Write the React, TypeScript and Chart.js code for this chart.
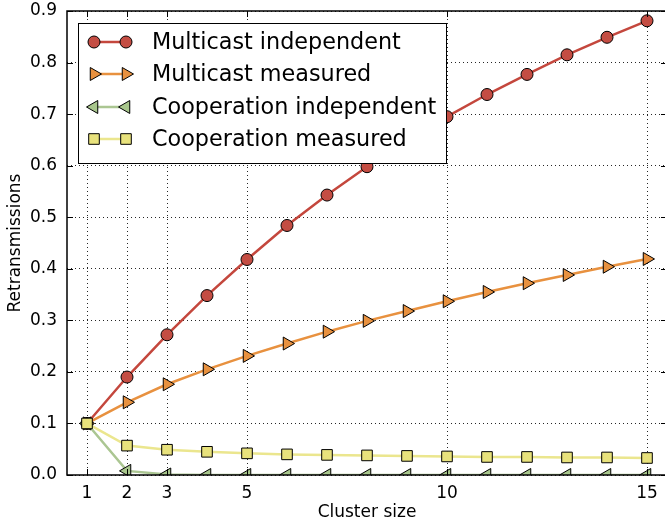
import React, { useEffect, useRef } from 'react';
import { Chart, registerables } from 'chart.js';
import { drawPoint } from 'chart.js/helpers';

Chart.register(...registerables);

const clusterSizes = [1, 2, 3, 4, 5, 6, 7, 8, 9, 10, 11, 12, 13, 14, 15];
const multicastIndependent = [0.1, 0.19, 0.272, 0.348, 0.418, 0.484, 0.543, 0.598, 0.649, 0.695, 0.738, 0.777, 0.815, 0.849, 0.881];
const multicastMeasured = [0.1, 0.141, 0.176, 0.205, 0.231, 0.255, 0.278, 0.299, 0.318, 0.337, 0.355, 0.372, 0.388, 0.404, 0.419];
const cooperationIndependent = [0.1, 0.008, 0.001, 0, 0, 0, 0, 0, 0, 0, 0, 0, 0, 0, 0];
const cooperationMeasured = [0.1, 0.057, 0.049, 0.045, 0.042, 0.04, 0.039, 0.038, 0.037, 0.036, 0.035, 0.035, 0.034, 0.034, 0.033];
const xTickValues = [1, 2, 3, 5, 10, 15];
const seriesLabels = ['Multicast independent', 'Multicast measured', 'Cooperation independent', 'Cooperation measured'];

const FONT = "'DejaVu Sans', sans-serif";

const frameAndLegend = {
  id: 'frameAndLegend',
  afterDraw(chart: any) {
    const { ctx, chartArea } = chart;
    const { left, top, right, bottom } = chartArea;
    const xs = chart.scales.x;
    const ys = chart.scales.y;
    ctx.save();
    ctx.strokeStyle = '#000';
    ctx.lineWidth = 1;
    ctx.setLineDash([]);
    // tick marks (inward)
    ctx.beginPath();
    xTickValues.forEach((v) => {
      const px = Math.round(xs.getPixelForValue(v)) + 0.5;
      ctx.moveTo(px, bottom);
      ctx.lineTo(px, bottom - 6);
      ctx.moveTo(px, top);
      ctx.lineTo(px, top + 6);
    });
    for (let i = 0; i <= 9; i++) {
      const py = Math.round(ys.getPixelForValue(i / 10)) + 0.5;
      ctx.moveTo(left, py);
      ctx.lineTo(left + 6, py);
      ctx.moveTo(right, py);
      ctx.lineTo(right - 6, py);
    }
    ctx.stroke();
    // frame
    ctx.lineWidth = 1.5;
    ctx.strokeRect(left, top, right - left, bottom - top);

    // legend
    const lx = 78.5, ly = 23.5, lw = 368, lh = 140;
    ctx.fillStyle = '#fff';
    ctx.fillRect(lx, ly, lw, lh);
    ctx.lineWidth = 1;
    ctx.strokeStyle = '#000';
    ctx.strokeRect(lx, ly, lw, lh);
    const rowY = [42, 74, 107, 139];
    seriesLabels.forEach((label, i) => {
      const ds = chart.data.datasets.find((d: any) => d.label === label);
      const y = rowY[i];
      ctx.strokeStyle = ds.borderColor;
      ctx.lineWidth = ds.borderWidth;
      ctx.beginPath();
      ctx.moveTo(94, y);
      ctx.lineTo(126, y);
      ctx.stroke();
      [94, 126].forEach((x) => {
        ctx.fillStyle = ds.pointBackgroundColor;
        ctx.strokeStyle = ds.pointBorderColor;
        ctx.lineWidth = ds.pointBorderWidth;
        drawPoint(ctx, { pointStyle: ds.pointStyle, rotation: ds.pointRotation, radius: ds.pointRadius, borderWidth: ds.pointBorderWidth }, x, y);
      });
      ctx.fillStyle = '#000';
      ctx.font = `22.3px ${FONT}`;
      ctx.textAlign = 'left';
      ctx.textBaseline = 'middle';
      ctx.fillText(label, 152, y + 1);
    });
    ctx.restore();
  },
};

function makeSeries(values: number[]) {
  return clusterSizes.map((x, i) => ({ x, y: values[i] }));
}

function zeroPadding(scale: any) {
  scale.paddingTop = 0;
  scale.paddingBottom = 0;
  scale.paddingLeft = 0;
  scale.paddingRight = 0;
}

export default function App() {
  const canvasRef = useRef<HTMLCanvasElement | null>(null);

  useEffect(() => {
    document.body.style.margin = '0';
    const canvas = canvasRef.current!;
    const chart = new Chart(canvas, {
      type: 'line',
      data: {
        datasets: [
          {
            label: seriesLabels[0],
            data: makeSeries(multicastIndependent),
            borderColor: '#c4473d',
            borderWidth: 2.5,
            pointStyle: 'circle',
            pointRadius: 6,
            pointRotation: 0,
            pointBackgroundColor: '#c44d43',
            pointBorderColor: '#000',
            pointBorderWidth: 1,
            clip: 0,
          },
          {
            label: seriesLabels[1],
            data: makeSeries(multicastMeasured),
            borderColor: '#e8913f',
            borderWidth: 2.5,
            pointStyle: 'triangle',
            pointRadius: 7.5,
            pointRotation: 90,
            pointBackgroundColor: '#e8913f',
            pointBorderColor: '#000',
            pointBorderWidth: 1,
            clip: 0,
          },
          {
            label: seriesLabels[2],
            data: makeSeries(cooperationIndependent),
            borderColor: '#abc692',
            borderWidth: 2.5,
            pointStyle: 'triangle',
            pointRadius: 7.5,
            pointRotation: -90,
            pointBackgroundColor: '#a8c68c',
            pointBorderColor: '#000',
            pointBorderWidth: 1,
            clip: 0,
          },
          {
            label: seriesLabels[3],
            data: makeSeries(cooperationMeasured),
            borderColor: '#ebe68e',
            borderWidth: 2.5,
            pointStyle: 'rect',
            pointRadius: 7.5,
            pointRotation: 0,
            pointBackgroundColor: '#e8e27c',
            pointBorderColor: '#000',
            pointBorderWidth: 1,
            clip: 0,
          },
        ].reverse() as any,
      },
      options: {
        animation: false,
        responsive: false,
        events: [],
        layout: { padding: { left: 0, top: 11, right: 23, bottom: 0 } },
        plugins: { legend: { display: false }, tooltip: { enabled: false } },
        scales: {
          x: {
            type: 'linear',
            min: 0.5,
            max: 15.5,
            afterBuildTicks: (scale: any) => {
              scale.ticks = xTickValues.map((v) => ({ value: v }));
            },
            afterFit: (scale: any) => {
              scale.height = 50;
              zeroPadding(scale);
            },
            grid: { color: 'rgba(0,0,0,0.85)', lineWidth: 1, drawTicks: false },
            border: { display: false, dash: [1, 3] },
            ticks: { color: '#000', font: { family: FONT, size: 17 }, padding: 8, maxRotation: 0, autoSkip: false },
            title: { display: true, text: 'Cluster size', color: '#000', font: { family: FONT, size: 17 }, padding: { top: 0, bottom: 2 } },
          },
          y: {
            type: 'linear',
            min: 0,
            max: 0.9,
            afterFit: (scale: any) => {
              scale.width = 67;
              zeroPadding(scale);
            },
            grid: { color: 'rgba(0,0,0,0.85)', lineWidth: 1, drawTicks: false },
            border: { display: false, dash: [1, 3] },
            ticks: {
              stepSize: 0.1,
              color: '#000',
              font: { family: FONT, size: 17 },
              padding: 10,
              callback: (v: any) => Number(v).toFixed(1),
            },
            title: { display: true, text: 'Retransmissions', color: '#000', font: { family: FONT, size: 17 }, padding: { top: 5, bottom: 0 } },
          },
        },
      },
      plugins: [frameAndLegend],
    });
    return () => chart.destroy();
  }, []);

  return (
    <div style={{ width: 665, height: 525, overflow: 'hidden', position: 'relative' }}>
      <canvas ref={canvasRef} width={690} height={525} style={{ display: 'block', width: 690, height: 525 }} />
    </div>
  );
}
